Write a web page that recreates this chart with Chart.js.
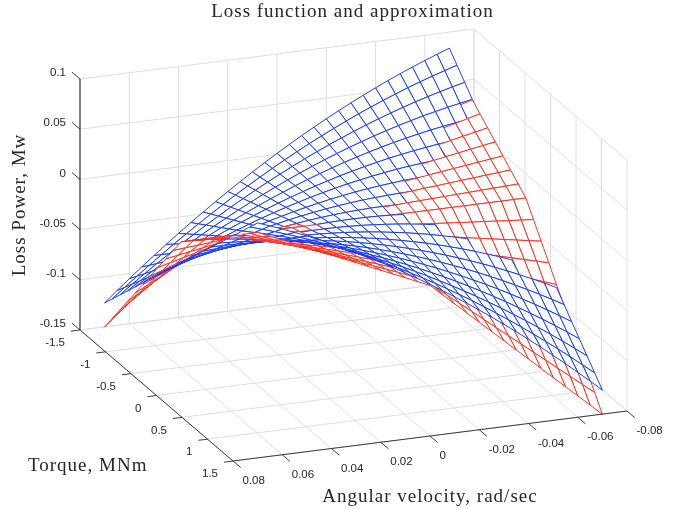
<!DOCTYPE html>
<html lang="en">
<head>
<meta charset="UTF-8">
<title>Loss function and approximation</title>
<style>
  html, body { margin: 0; padding: 0; background: #fff; }
  canvas { display: block; }
</style>
</head>
<body>
<canvas id="myChart" width="676" height="509"></canvas>
<script src="https://cdnjs.cloudflare.com/ajax/libs/Chart.js/4.4.1/chart.umd.min.js"></script>
<script>
// axis ticks
var omegaTicks = [0.08, 0.06, 0.04, 0.02, 0, -0.02, -0.04, -0.06, -0.08];
var omegaLabels = ['0.08', '0.06', '0.04', '0.02', '0', '-0.02', '-0.04', '-0.06', '-0.08'];
var torqueTicks = [-1.5, -1, -0.5, 0, 0.5, 1, 1.5];
var torqueLabels = ['-1.5', '-1', '-0.5', '0', '0.5', '1', '1.5'];
var lossTicks = [-0.15, -0.1, -0.05, 0, 0.05, 0.1];
var lossLabels = ['-0.15', '-0.1', '-0.05', '0', '0.05', '0.1'];

// mesh nodes
var omegaNodes = [-0.07, -0.065, -0.06, -0.055, -0.05, -0.045, -0.04, -0.035, -0.03, -0.025, -0.02, -0.015, -0.01, -0.005, 0,
  0.005, 0.01, 0.015, 0.02, 0.025, 0.03, 0.035, 0.04, 0.045, 0.05, 0.055, 0.06, 0.065, 0.07];
var torqueNodes = [-1.5, -1.35, -1.2, -1.05, -0.9, -0.75, -0.6, -0.45, -0.3, -0.15, 0, 0.15, 0.3, 0.45, 0.6, 0.75, 0.9, 1.05, 1.2, 1.35, 1.5];

// loss, in 1e-4 MW, one row per torque node
var lossFunction = [
  [840,795,748,699,648,594,538,480,420,357,292,225,156,84,10,-66,-145,-225,-308,-393,-481,-570,-662,-756,-853,-951,-1052,-1155,-1261],
  [735,697,658,616,573,526,478,427,375,319,262,202,141,76,10,-59,-130,-203,-278,-356,-436,-518,-602,-689,-778,-869,-962,-1058,-1156],
  [630,600,568,534,498,459,418,375,330,282,232,180,126,69,10,-51,-115,-180,-248,-318,-391,-465,-542,-621,-703,-786,-872,-960,-1051],
  [525,502,478,451,423,391,358,322,285,244,202,157,111,61,10,-44,-100,-158,-218,-281,-346,-413,-482,-554,-628,-704,-782,-863,-946],
  [420,405,388,369,348,324,298,270,240,207,172,135,96,54,10,-36,-85,-135,-188,-243,-301,-360,-422,-486,-553,-621,-692,-765,-841],
  [315,307,298,286,273,256,238,217,195,169,142,112,81,46,10,-29,-70,-113,-158,-206,-256,-308,-362,-419,-478,-539,-602,-668,-736],
  [210,210,208,204,198,189,178,165,150,132,112,90,66,39,10,-21,-55,-90,-128,-168,-211,-255,-302,-351,-403,-456,-512,-570,-631],
  [105,112,118,121,123,121,118,112,105,94,82,67,51,31,10,-14,-40,-68,-98,-131,-166,-203,-242,-284,-328,-374,-422,-473,-526],
  [-1,15,28,39,48,54,58,60,60,57,52,45,36,24,10,-6,-25,-45,-68,-93,-121,-150,-182,-216,-253,-291,-332,-375,-421],
  [-106,-83,-62,-44,-28,-14,-2,7,15,19,22,22,21,16,10,1,-10,-23,-38,-56,-76,-98,-122,-149,-178,-209,-242,-278,-316],
  [-211,-180,-152,-126,-103,-81,-62,-45,-31,-18,-8,0,6,9,10,9,6,0,-8,-18,-31,-45,-62,-81,-103,-126,-152,-180,-211],
  [-316,-278,-242,-209,-178,-149,-122,-98,-76,-56,-38,-23,-10,1,10,16,21,22,22,19,15,7,-2,-14,-28,-44,-62,-83,-106],
  [-421,-375,-332,-291,-253,-216,-182,-150,-121,-93,-68,-45,-25,-6,10,24,36,45,52,57,60,60,58,54,48,39,28,15,-1],
  [-526,-473,-422,-374,-328,-284,-242,-203,-166,-131,-98,-68,-40,-14,10,31,51,67,82,94,105,112,118,121,123,121,118,112,105],
  [-631,-570,-512,-456,-403,-351,-302,-255,-211,-168,-128,-90,-55,-21,10,39,66,90,112,132,150,165,178,189,198,204,208,210,210],
  [-736,-668,-602,-539,-478,-419,-362,-308,-256,-206,-158,-113,-70,-29,10,46,81,112,142,169,195,217,238,256,273,286,298,307,315],
  [-841,-765,-692,-621,-553,-486,-422,-360,-301,-243,-188,-135,-85,-36,10,54,96,135,172,207,240,270,298,324,348,369,388,405,420],
  [-946,-863,-782,-704,-628,-554,-482,-413,-346,-281,-218,-158,-100,-44,10,61,111,157,202,244,285,322,358,391,423,451,478,502,525],
  [-1051,-960,-872,-786,-703,-621,-542,-465,-391,-318,-248,-180,-115,-51,10,69,126,180,232,282,330,375,418,459,498,534,568,600,630],
  [-1156,-1058,-962,-869,-778,-689,-602,-518,-436,-356,-278,-203,-130,-59,10,76,141,202,262,319,375,427,478,526,573,616,658,697,735],
  [-1261,-1155,-1052,-951,-853,-756,-662,-570,-481,-393,-308,-225,-145,-66,10,84,156,225,292,357,420,480,538,594,648,699,748,795,840]
];
var lossApprox = [
  [746,692,639,586,533,479,426,373,320,266,213,160,107,53,0,-107,-215,-322,-429,-536,-644,-751,-858,-965,-1073,-1180,-1287,-1394,-1502],
  [671,623,575,527,479,431,383,335,288,240,192,144,96,48,0,-97,-193,-290,-386,-483,-579,-676,-772,-869,-965,-1062,-1158,-1255,-1351],
  [596,554,511,469,426,383,341,298,256,213,170,128,85,43,0,-86,-172,-257,-343,-429,-515,-601,-686,-772,-858,-944,-1030,-1115,-1201],
  [522,485,447,410,373,335,298,261,224,186,149,112,75,37,0,-75,-150,-225,-300,-375,-450,-526,-601,-676,-751,-826,-901,-976,-1051],
  [447,415,383,351,320,288,256,224,192,160,128,96,64,32,0,-64,-129,-193,-257,-322,-386,-450,-515,-579,-644,-708,-772,-837,-901],
  [373,346,320,293,266,240,213,186,160,133,107,80,53,27,0,-54,-107,-161,-215,-268,-322,-375,-429,-483,-536,-590,-644,-697,-751],
  [298,277,256,234,213,192,170,149,128,107,85,64,43,21,0,-43,-86,-129,-172,-215,-257,-300,-343,-386,-429,-472,-515,-558,-601],
  [224,208,192,176,160,144,128,112,96,80,64,48,32,16,0,-32,-64,-97,-129,-161,-193,-225,-257,-290,-322,-354,-386,-418,-450],
  [149,138,128,117,107,96,85,75,64,53,43,32,21,11,0,-21,-43,-64,-86,-107,-129,-150,-172,-193,-215,-236,-257,-279,-300],
  [75,69,64,59,53,48,43,37,32,27,21,16,11,5,0,-11,-21,-32,-43,-54,-64,-75,-86,-97,-107,-118,-129,-139,-150],
  [0,0,0,0,0,0,0,0,0,0,0,0,0,0,0,0,0,0,0,0,0,0,0,0,0,0,0,0,0],
  [-150,-139,-129,-118,-107,-97,-86,-75,-64,-54,-43,-32,-21,-11,0,5,11,16,21,27,32,37,43,48,53,59,64,69,75],
  [-300,-279,-257,-236,-215,-193,-172,-150,-129,-107,-86,-64,-43,-21,0,11,21,32,43,53,64,75,85,96,107,117,128,138,149],
  [-450,-418,-386,-354,-322,-290,-257,-225,-193,-161,-129,-97,-64,-32,0,16,32,48,64,80,96,112,128,144,160,176,192,208,224],
  [-601,-558,-515,-472,-429,-386,-343,-300,-257,-215,-172,-129,-86,-43,0,21,43,64,85,107,128,149,170,192,213,234,256,277,298],
  [-751,-697,-644,-590,-536,-483,-429,-375,-322,-268,-215,-161,-107,-54,0,27,53,80,107,133,160,186,213,240,266,293,320,346,373],
  [-901,-837,-772,-708,-644,-579,-515,-450,-386,-322,-257,-193,-129,-64,0,32,64,96,128,160,192,224,256,288,320,351,383,415,447],
  [-1051,-976,-901,-826,-751,-676,-601,-526,-450,-375,-300,-225,-150,-75,0,37,75,112,149,186,224,261,298,335,373,410,447,485,522],
  [-1201,-1115,-1030,-944,-858,-772,-686,-601,-515,-429,-343,-257,-172,-86,0,43,85,128,170,213,256,298,341,383,426,469,511,554,596],
  [-1351,-1255,-1158,-1062,-965,-869,-772,-676,-579,-483,-386,-290,-193,-97,0,48,96,144,192,240,288,335,383,431,479,527,575,623,671],
  [-1502,-1394,-1287,-1180,-1073,-965,-858,-751,-644,-536,-429,-322,-215,-107,0,53,107,160,213,266,320,373,426,479,533,586,639,692,746]
];

var TEXT = '#262626', GRID = '#dedede';
var BLUE = '#0f38ff', RED = '#ff2a18';

// orthographic view of the axes box
function project(om, t, z) {
  var u = (0.08 - om) / 0.16, v = (1.5 - t) / 3;
  return {
    x: 233 + 394 * u - 153 * v,
    y: 461 - 50 * u - 131 * v - 1004 * (z + 0.15)
  };
}

function lineSet(pts, color, width) {
  return { data: pts, showLine: true, fill: false, borderColor: color, borderWidth: width, pointRadius: 0 };
}

function cellSet(table, i, j, color) {
  var idx = [[i, j], [i, j + 1], [i + 1, j + 1], [i + 1, j], [i, j]];
  var pts = idx.map(function (n) {
    return project(omegaNodes[n[1]], torqueNodes[n[0]], table[n[0]][n[1]] / 10000);
  });
  return { data: pts, showLine: true, fill: 'shape', backgroundColor: '#ffffff', borderColor: color, borderWidth: 0.95, pointRadius: 0 };
}

function cellLevel(table, i, j) {
  return table[i][j] + table[i][j + 1] + table[i + 1][j] + table[i + 1][j + 1];
}

// listed back to front, reversed at the end as Chart.js paints the first dataset last
var drawList = [];
var zMin = lossTicks[0], zMax = lossTicks[lossTicks.length - 1];
var tBack = torqueTicks[0], tFront = torqueTicks[torqueTicks.length - 1];
var omBack = omegaTicks[omegaTicks.length - 1], omFront = omegaTicks[0];

omegaTicks.forEach(function (om) {
  drawList.push(lineSet([project(om, tBack, zMin), project(om, tBack, zMax)], GRID, 1));
  drawList.push(lineSet([project(om, tBack, zMin), project(om, tFront, zMin)], GRID, 1));
});
torqueTicks.forEach(function (t) {
  drawList.push(lineSet([project(omBack, t, zMin), project(omBack, t, zMax)], GRID, 1));
  drawList.push(lineSet([project(omBack, t, zMin), project(omFront, t, zMin)], GRID, 1));
});
lossTicks.forEach(function (z) {
  drawList.push(lineSet([project(omFront, tBack, z), project(omBack, tBack, z), project(omBack, tFront, z)], GRID, 1));
});

for (var i = 0; i < torqueNodes.length - 1; i++) {
  for (var j = 0; j < omegaNodes.length - 1; j++) {
    var blueCell = cellSet(lossFunction, i, j, BLUE);
    var redCell = cellSet(lossApprox, i, j, RED);
    if (cellLevel(lossFunction, i, j) < cellLevel(lossApprox, i, j)) {
      drawList.push(blueCell, redCell);
    } else {
      drawList.push(redCell, blueCell);
    }
  }
}

// axes and tick marks
drawList.push(lineSet([project(omFront, tBack, zMin), project(omFront, tBack, zMax)], TEXT, 1.1));
drawList.push(lineSet([project(omFront, tBack, zMin), project(omFront, tFront, zMin)], TEXT, 0.9));
drawList.push(lineSet([project(omFront, tFront, zMin), project(omBack, tFront, zMin)], TEXT, 0.9));
omegaTicks.forEach(function (om) {
  drawList.push(lineSet([project(om, tFront, zMin), project(om, tFront + 0.15, zMin)], TEXT, 0.9));
});
torqueTicks.forEach(function (t) {
  drawList.push(lineSet([project(omFront, t, zMin), project(omFront + 0.0037, t, zMin)], TEXT, 0.9));
});
lossTicks.forEach(function (z) {
  drawList.push(lineSet([project(omFront, tBack, z), project(omFront, tBack - 0.156, z)], TEXT, 0.9));
});

var axisText = {
  id: 'axisText',
  afterDatasetsDraw: function (chart) {
    var ctx = chart.ctx, sx = chart.scales.x, sy = chart.scales.y;
    function put(p, dx, dy, label, align) {
      ctx.textAlign = align;
      ctx.fillText(label, sx.getPixelForValue(p.x) + dx, sy.getPixelForValue(p.y) + dy);
    }
    ctx.save();
    ctx.fillStyle = TEXT;
    ctx.textBaseline = 'middle';
    ctx.font = '11.5px "Liberation Sans"';
    omegaTicks.forEach(function (om, n) { put(project(om, tFront, zMin), 9.5, 20, omegaLabels[n], 'left'); });
    torqueTicks.forEach(function (t, n) { put(project(omFront, t, zMin), -15, 13, torqueLabels[n], 'right'); });
    lossTicks.forEach(function (z, n) { put(project(omFront, tBack, z), -14, -6, lossLabels[n], 'right'); });

    ctx.letterSpacing = '1px';
    ctx.font = '19px "Liberation Serif"';
    put({ x: 352.5, y: 12 }, 0, 0, 'Loss function and approximation', 'center');
    put({ x: 430, y: 497 }, 0, 0, 'Angular velocity, rad/sec', 'center');
    put({ x: 28, y: 466 }, 0, 0, 'Torque, MNm', 'left');
    ctx.translate(sx.getPixelForValue(20), sy.getPixelForValue(205));
    ctx.rotate(-Math.PI / 2);
    ctx.textAlign = 'center';
    ctx.fillText('Loss Power, Mw', 0, 0);
    ctx.restore();
  }
};

new Chart(document.getElementById('myChart').getContext('2d'), {
  type: 'scatter',
  data: { datasets: drawList.reverse() },
  plugins: [axisText],
  options: {
    responsive: false,
    animation: false,
    events: [],
    layout: { padding: 0 },
    plugins: {
      legend: { display: false },
      tooltip: { enabled: false }
    },
    scales: {
      x: { type: 'linear', display: false, min: 0, max: 676 },
      y: { type: 'linear', display: false, reverse: true, min: 0, max: 509 }
    }
  }
});
</script>
</body>
</html>
